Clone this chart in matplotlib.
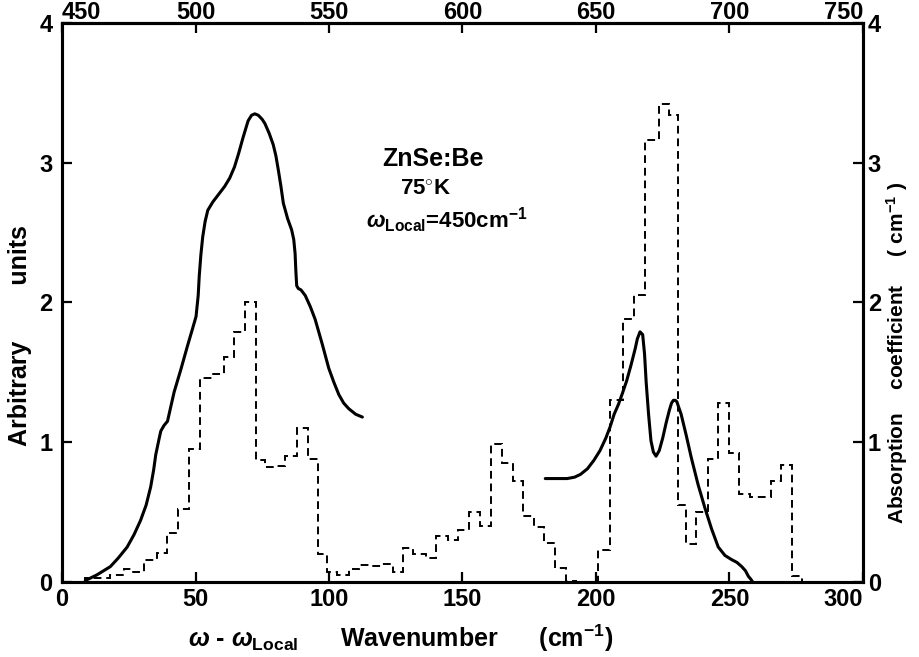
from matplotlib import pyplot as plt
import numpy as np

# Histogram (absorption coefficient, right axis): bin edges and heights
edges = [8.7, 18.1, 23.1, 26.3, 30.7, 35.7, 39.2, 43.3, 47.4, 51.8, 56.0,
         60.5, 64.4, 68.4, 72.6, 76.0, 80.0, 83.5, 87.9, 92.3, 95.8, 99.2,
         103.0, 107.4, 111.2, 116.2, 120.0, 123.8, 127.8, 131.6, 136.3,
         140.1, 144.5, 148.3, 152.5, 156.5, 160.5, 164.7, 168.8, 172.8,
         176.6, 180.4, 184.8, 188.9, 192.7, 200.8, 205.3, 210.2, 214.3,
         218.4, 223.7, 227.5, 230.9, 233.8, 237.6, 241.8, 245.8, 249.8,
         253.6, 257.7, 265.7, 269.4, 273.5, 277.2]
absorp = [0.03, 0.05, 0.09, 0.07, 0.16, 0.21, 0.35, 0.52, 0.95, 1.46,
          1.49, 1.61, 1.79, 2.0, 0.87, 0.82, 0.83, 0.9, 1.1, 0.88, 0.2,
          0.07, 0.05, 0.09, 0.12, 0.115, 0.13, 0.07, 0.24, 0.2, 0.17,
          0.33, 0.3, 0.37, 0.5, 0.4, 0.99, 0.85, 0.72, 0.47, 0.39, 0.28,
          0.1, 0.01, 0.0, 0.23, 1.3, 1.88, 2.05, 3.16, 3.42, 3.34, 0.55,
          0.27, 0.5, 0.88, 1.28, 0.92, 0.63, 0.61, 0.72, 0.84, 0.04]

# Solid curve, first part (arbitrary units, left axis)
w1 = [8.7, 13.0, 18.1, 21.0, 24.4, 27.0, 29.4, 31.5, 33.2, 34.3, 35.1,
      36.3, 37.0, 38.2, 39.5, 42.0, 44.5, 47.0, 49.0, 50.2, 51.0, 51.4,
      52.0, 52.7, 53.6, 54.6, 56.5, 58.5, 60.9, 62.8, 64.6, 66.2, 67.8,
      69.7, 71.0, 72.2, 73.5, 75.0, 76.0, 77.6, 79.1, 80.1, 81.0, 82.0,
      82.9, 84.5, 86.0, 86.8, 87.3, 87.6, 87.9, 88.5, 89.5, 91.1, 93.0,
      94.8, 97.5, 99.9, 101.8, 103.7, 105.5, 107.4, 110.0, 112.5]
a1 = [0.01, 0.05, 0.11, 0.17, 0.25, 0.34, 0.44, 0.55, 0.68, 0.8, 0.91,
      1.02, 1.08, 1.12, 1.15, 1.36, 1.52, 1.69, 1.82, 1.9, 2.05, 2.19,
      2.34, 2.47, 2.58, 2.66, 2.72, 2.77, 2.83, 2.89, 2.97, 3.07, 3.18,
      3.3, 3.34, 3.35, 3.34, 3.31, 3.28, 3.21, 3.13, 3.05, 2.95, 2.83,
      2.71, 2.6, 2.52, 2.45, 2.35, 2.22, 2.12, 2.1, 2.09, 2.05, 1.97,
      1.88, 1.7, 1.53, 1.43, 1.34, 1.28, 1.24, 1.2, 1.18]

# Solid curve, second part
w2 = [181.0, 186.0, 189.2, 192.0, 194.2, 196.8, 199.2, 201.5, 203.7,
      205.3, 206.8, 208.4, 209.9, 211.5, 213.1, 214.7, 215.5, 216.5,
      217.5, 218.2, 218.8, 219.7, 220.6, 221.5, 222.5, 223.7, 225.0,
      226.3, 227.5, 228.3, 229.0, 229.7, 230.3, 231.0, 231.9, 233.8,
      235.7, 238.2, 240.8, 243.3, 245.8, 248.3, 250.8, 252.8, 254.6,
      256.0, 257.1, 258.0, 258.7]
a2 = [0.74, 0.74, 0.74, 0.75, 0.77, 0.81, 0.87, 0.94, 1.03, 1.11, 1.2,
      1.27, 1.35, 1.44, 1.55, 1.67, 1.74, 1.79, 1.77, 1.63, 1.43, 1.2,
      1.01, 0.93, 0.9, 0.94, 1.03, 1.14, 1.23, 1.28, 1.3, 1.3, 1.29, 1.25,
      1.2, 1.05, 0.89, 0.7, 0.53, 0.38, 0.25, 0.19, 0.16, 0.14, 0.11,
      0.08, 0.04, 0.02, 0.0]

bottom_ticks = [0, 50, 100, 150, 200, 250, 300]
top_ticks = [450, 500, 550, 600, 650, 700, 750]
y_ticks = [0, 1, 2, 3, 4]

plt.rcParams['font.family'] = ['Liberation Sans', 'DejaVu Sans']
plt.rcParams['font.weight'] = 'bold'
plt.rcParams['mathtext.fontset'] = 'custom'
plt.rcParams['mathtext.rm'] = 'Liberation Sans:bold'
plt.rcParams['mathtext.it'] = 'Liberation Sans:italic:bold'
plt.rcParams['mathtext.bf'] = 'Liberation Sans:bold'

fig = plt.figure(figsize=(9.19, 6.57), dpi=100)
# frame: x 62..863 px, y 23..582 px
ax = fig.add_axes([0.0675, 0.1142, 0.8715, 0.8508])
ax2 = ax.twinx()

# Curves
ax.plot(w1, a1, color='k', linewidth=2.2, solid_capstyle='round')
ax.plot(w2, a2, color='k', linewidth=2.2, solid_capstyle='round')
ax2.stairs(absorp, edges, color='k', linewidth=1.4, linestyle=(0, (4, 2.5)))

# Limits
ax.set_xlim(0, 300)
ax.set_ylim(0, 4)
ax2.set_ylim(0, 4)

# Ticks
tick_kw = dict(direction='in', length=7, width=1.6, labelsize=17)
ax.set_xticks(bottom_ticks)
ax.set_yticks(y_ticks)
ax.tick_params(axis='both', **tick_kw)
ax.tick_params(axis='x', pad=4)
ax.tick_params(axis='y', pad=7)
ax2.set_yticks(y_ticks)
ax2.tick_params(axis='y', **tick_kw)
ax.get_xticklabels()[-1].set_ha('right')

top = ax.secondary_xaxis('top', functions=(lambda x: x + 450, lambda x: x - 450))
top.set_xticks(top_ticks)
top.tick_params(axis='x', direction='in', length=7, width=1.6, labelsize=17, pad=-1)
top_labels = top.get_xticklabels()
top_labels[0].set_ha('left')
top_labels[-1].set_ha('right')

for a in (ax, ax2):
    for s in a.spines.values():
        s.set_linewidth(2.2)
top.spines['top'].set_linewidth(2.2)

# Axis labels
ax.set_ylabel('Arbitrary        units', fontsize=18, fontweight='bold')
ax.yaxis.set_label_coords(-0.038, 0.44)
ax2.set_ylabel('Absorption    coefficient     ( cm$^{-1}$ )', fontsize=15,
               fontweight='bold')
ax2.yaxis.set_label_coords(1.027, 0.41)
ax.set_xlabel(r'$\omega$ - $\omega_{\rm Local}$      Wavenumber      (cm$^{-1}$)',
              fontsize=18, fontweight='bold')
ax.xaxis.set_label_coords(0.423, -0.072)

# Annotation
ax.text(120, 3.03, 'ZnSe:Be', fontsize=18, fontweight='bold', va='center')
ax.text(126.5, 2.81, r'75$^{\circ}$K', fontsize=16, fontweight='bold', va='center')
ax.text(114, 2.59, r'$\omega_{\rm Local}$=450cm$^{-1}$', fontsize=16,
        fontweight='bold', va='center')

plt.savefig('out.png', dpi=100)
